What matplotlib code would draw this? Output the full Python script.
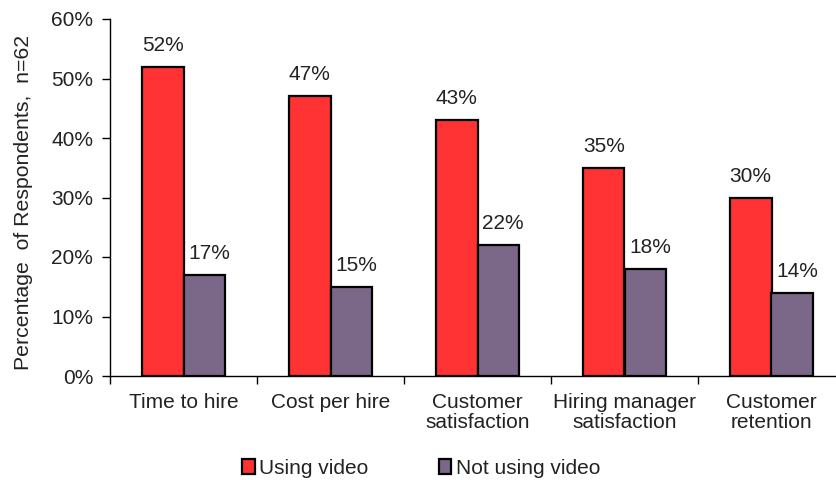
import numpy as np
import matplotlib.pyplot as plt
from matplotlib.patches import Patch

plt.rcParams['font.family'] = ['Liberation Sans', 'DejaVu Sans']

categories = ['Time to hire', 'Cost per hire', 'Customer\nsatisfaction',
              'Hiring manager\nsatisfaction', 'Customer\nretention']
using_video = [52, 47, 43, 35, 30]
not_using_video = [17, 15, 22, 18, 14]
yticks = [0, 10, 20, 30, 40, 50, 60]

red = '#FF3333'
purple = '#7B6888'
txt = '#222222'
fs = 15

fig = plt.figure(figsize=(8.37, 4.8), dpi=100)
ax = fig.add_axes([110 / 837, 104 / 480, 727 / 837, 357 / 480])

x = np.arange(len(categories))
w = 0.283
ax.bar(x - w / 2, using_video, w, color=red, edgecolor='black', linewidth=1.6, zorder=3)
ax.bar(x + w / 2, not_using_video, w, color=purple, edgecolor='black', linewidth=1.6, zorder=3)

# value labels (purple ones sit a little right of the bar centre in the original)
for i in range(len(categories)):
    ax.text(x[i] - w / 2, using_video[i] + 2.0, f'{using_video[i]}%', ha='center', va='bottom',
            fontsize=fs, color=txt)
    ax.text(x[i] + w / 2 + 0.034, not_using_video[i] + 2.0, f'{not_using_video[i]}%', ha='center',
            va='bottom', fontsize=fs, color=txt)

ax.set_xlim(-0.5, 4.5 - 8 / 147)
ax.set_ylim(0, 60)
ax.set_yticks(yticks)
ax.set_yticklabels([f'{t}%' for t in yticks], fontsize=fs, color=txt)
ax.set_xticks(x)
ax.set_xticklabels(categories, fontsize=fs, color=txt, linespacing=1.12)
ax.set_xticks(np.arange(-0.5, 4.5, 1), minor=True)
ax.tick_params(axis='x', which='major', length=0, pad=12)
ax.tick_params(axis='x', which='minor', length=6, width=1, direction='out')
ax.tick_params(axis='y', length=6, width=1, direction='out', pad=6)

for s in ['top', 'right']:
    ax.spines[s].set_visible(False)
for s in ['left', 'bottom']:
    ax.spines[s].set_linewidth(1)

ax.set_ylabel('Percentage  of Respondents,  n=62', fontsize=15.3, color=txt)
ax.yaxis.set_label_coords(-0.106, 0.487)

handles = [Patch(facecolor=red, edgecolor='black', linewidth=1.6),
           Patch(facecolor=purple, edgecolor='black', linewidth=1.6)]
fig.legend(handles, ['Using video', 'Not using video'], loc='center', bbox_to_anchor=(0.503, 0.025),
           ncol=2, frameon=False, fontsize=fs, handlelength=0.6, handleheight=0.7,
           handletextpad=0.2, columnspacing=3.4, labelcolor=txt)

fig.savefig('out.png', dpi=100)
